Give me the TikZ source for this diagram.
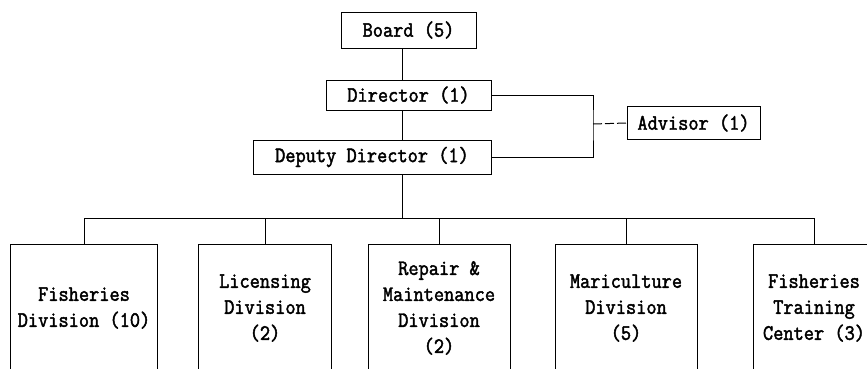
\documentclass[tikz,border=0pt]{standalone}
\usepackage{fontspec}
\setmonofont{Latin Modern Mono}[FakeStretch=0.9, FakeBold=2]
\usetikzlibrary{positioning}

\begin{document}
\begin{tikzpicture}[
  x=1pt, y=-1pt,
  box/.style={draw, line width=0.9pt, inner sep=0pt, align=center,
    font=\ttfamily\fontsize{22}{26}\selectfont},
  unit/.style={box, minimum width=142pt, minimum height=128pt},
  link/.style={line width=1pt}
]
\useasboundingbox (0,0) rectangle (867,369);
\clip (0,0) rectangle (867,369);
\node[box, minimum width=135pt, minimum height=36pt] (board) at (408.5,30) {Board (5)};
\node[box, minimum width=165pt, minimum height=30pt] (dir) at (408.5,95) {Director (1)};
\node[box, minimum width=238pt, minimum height=34pt] (dep) at (372,157) {Deputy Director (1)};
\node[box, minimum width=133pt, minimum height=33pt] (adv) at (693.5,123) {Advisor (1)};
\coordinate (bus) at (402,218);
\coordinate (brk) at (593,124);
\draw[link] (board.south -| bus) -- (dir.north -| bus);
\draw[link] (dir.south -| bus) -- (dep.north -| bus);
\draw[link] (dep.south -| bus) -- (bus);
\draw[link] (dir.east) -| (brk) |- (dep.east);
\draw[link, dash pattern=on 9pt off 3pt] (brk) -- (adv.west);
\node[unit, minimum width=147pt] (fish) at (84,308) {Fisheries\\Division (10)};
\node[unit, minimum width=133pt] (lic) at (265,308) {Licensing\\Division\\(2)};
\node[unit] (rep) at (439,308) {Repair \&\\Maintenance\\Division\\(2)};
\node[unit] (mar) at (626,308) {Mariculture\\Division\\(5)};
\node[unit, minimum width=122pt] (ftc) at (814,308) {Fisheries\\Training\\Center (3)};
\foreach \n in {fish,lic,rep,mar,ftc}
  \draw[link] (bus) -| (\n.north);
\end{tikzpicture}
\end{document}
